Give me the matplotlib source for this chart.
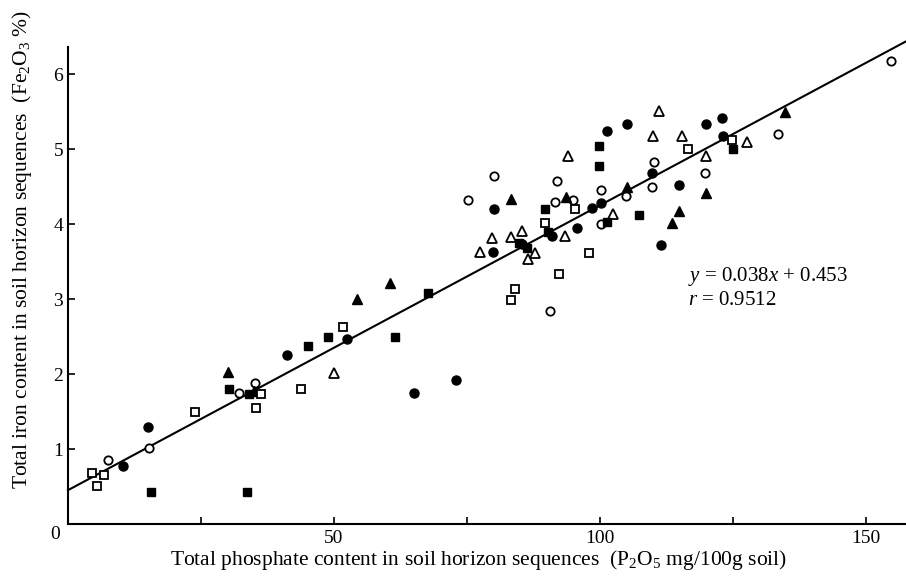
import numpy as np
import matplotlib
matplotlib.use("Agg")
import matplotlib.pyplot as plt

plt.rcParams["font.family"] = ["Liberation Serif", "DejaVu Serif"]
plt.rcParams["mathtext.fontset"] = "custom"
plt.rcParams["mathtext.rm"] = "Liberation Serif"
plt.rcParams["mathtext.it"] = "Liberation Serif:italic"

# phosphate (x) / iron (y) per horizon group
filled_circle_x = [10.3, 15.0, 41.2, 52.4, 65.0, 72.9, 80.1, 79.9, 85.3, 91.0, 95.7,
                   98.5, 100.2, 101.3, 105.1, 109.8, 114.8, 111.4, 119.9, 122.9, 123.1]
filled_circle_y = [0.78, 1.30, 2.25, 2.47, 1.75, 1.92, 4.20, 3.63, 3.74, 3.84, 3.95,
                   4.22, 4.28, 5.24, 5.34, 4.68, 4.52, 3.72, 5.33, 5.41, 5.18]

open_circle_x = [7.5, 15.2, 32.1, 35.2, 75.2, 80.1, 91.9, 91.5, 94.9, 100.2, 100.2,
                 104.9, 90.6, 110.2, 109.8, 119.7, 133.5, 154.7]
open_circle_y = [0.86, 1.01, 1.75, 1.88, 4.32, 4.64, 4.57, 4.29, 4.32, 4.46, 4.00,
                 4.37, 2.84, 4.83, 4.49, 4.68, 5.20, 6.17]

filled_tri_x = [30.1, 35.0, 54.3, 60.5, 83.3, 93.6, 105.1, 113.5, 114.8, 119.9, 134.8]
filled_tri_y = [2.03, 1.78, 3.00, 3.21, 4.33, 4.36, 4.50, 4.01, 4.18, 4.42, 5.50]

open_tri_x = [50.0, 77.4, 79.7, 83.3, 85.3, 86.5, 87.8, 93.4, 94.0, 102.4, 111.1,
              110.0, 115.4, 119.9, 127.6]
open_tri_y = [2.01, 3.63, 3.82, 3.83, 3.91, 3.54, 3.61, 3.84, 4.91, 4.13, 5.51,
              5.17, 5.17, 4.91, 5.09]

filled_sq_x = [15.6, 33.6, 30.3, 34.0, 45.1, 48.9, 61.5, 67.7, 84.8, 86.3, 89.7,
               90.2, 99.8, 99.8, 101.3, 107.3, 125.0]
filled_sq_y = [0.43, 0.43, 1.80, 1.74, 2.38, 2.49, 2.49, 3.08, 3.75, 3.68, 4.20,
               3.89, 5.04, 4.78, 4.03, 4.12, 5.00]

open_sq_x = [4.5, 5.5, 6.8, 23.9, 36.3, 35.3, 43.8, 51.7, 83.3, 84.0, 92.3, 97.9,
             95.3, 89.7, 116.5, 124.8]
open_sq_y = [0.68, 0.51, 0.66, 1.50, 1.74, 1.55, 1.80, 2.63, 2.99, 3.13, 3.33, 3.61,
             4.20, 4.01, 5.00, 5.12]

slope, intercept = 0.038, 0.453

fig = plt.figure(figsize=(9.06, 5.76), dpi=100)
ax = fig.add_axes([0.075, 0.090, 0.925, 0.828])

ax.plot(filled_circle_x, filled_circle_y, "o", ms=6.5, color="black", ls="none")
ax.plot(open_circle_x, open_circle_y, "o", ms=6, mfc="white", mec="black", mew=1.3, ls="none")
ax.plot(filled_tri_x, filled_tri_y, "^", ms=7.5, color="black", ls="none")
ax.plot(open_tri_x, open_tri_y, "^", ms=7, mfc="white", mec="black", mew=1.3, ls="none")
ax.plot(filled_sq_x, filled_sq_y, "s", ms=6, color="black", ls="none")
ax.plot(open_sq_x, open_sq_y, "s", ms=6, mfc="white", mec="black", mew=1.3, ls="none")

xl = np.array([0, 157.5])
ax.plot(xl, slope * xl + intercept, color="black", lw=1.5, zorder=1, clip_on=False)

ax.set_xlim(0, 157.5)
ax.set_ylim(0, 6.36)

for s in ["top", "right"]:
    ax.spines[s].set_visible(False)
ax.spines["left"].set_linewidth(1.5)
ax.spines["bottom"].set_linewidth(1.5)

ax.set_xticks([50, 100, 150])
ax.set_xticklabels(["50", "100", "150"])
ax.set_xticks([25, 75, 125], minor=True)
ax.set_yticks([1, 2, 3, 4, 5, 6])
ax.tick_params(which="both", direction="in", length=5, width=1.2, labelsize=14)
ax.tick_params(axis="x", pad=4)
ax.text(-1.5, -0.14, "0", fontsize=14, ha="right", va="center")

ax.set_xlabel("Total phosphate content in soil horizon sequences\u2002(P$_2$O$_5$ mg/100g soil)",
              fontsize=15.5)
ax.xaxis.set_label_coords(0.49, -0.050)
ax.set_ylabel("Total iron content in soil horizon sequences\u2002(Fe$_2$O$_3$ %)",
              fontsize=15.5)
ax.yaxis.set_label_coords(-0.04, 0.575)

ax.text(116.5, 3.24, "$y$ = 0.038$x$ + 0.453", fontsize=15)
ax.text(116.5, 2.92, "$r$ = 0.9512", fontsize=15)

fig.savefig("out.png", dpi=100)
